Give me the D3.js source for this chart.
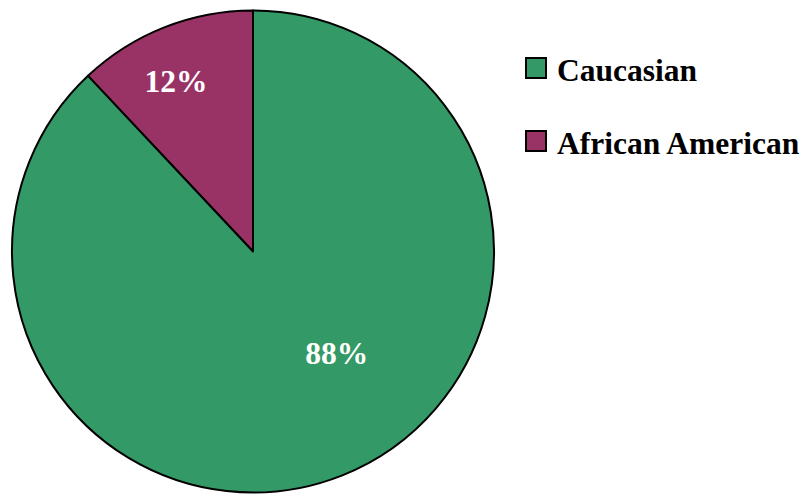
<!DOCTYPE html>
<html>
<head>
<meta charset="utf-8">
<script src="https://cdn.jsdelivr.net/npm/d3@7"></script>
<style>
  html, body { margin: 0; padding: 0; background: #fff; }
  svg { display: block; }
</style>
</head>
<body>
<svg id="chart" width="806" height="494"></svg>
<script>
// Population share by group (percent)
const categories = ["African American", "Caucasian"];
const values = [12, 88];
const colors = ["#993366", "#339966"];
const legendOrder = ["Caucasian", "African American"];

const svg = d3.select("#chart");
const cx = 253, cy = 251.5, radius = 241;
const serif = '"Liberation Serif"';

const color = d3.scaleOrdinal().domain(categories).range(colors);

// Slices run counter-clockwise from 12 o'clock, first category first
const pie = d3.pie().sort(null).value(d => d.value)
  .startAngle(0).endAngle(-2 * Math.PI);
const data = categories.map((c, i) => ({ name: c, value: values[i] }));
const arcs = pie(data);

const arc = d3.arc().innerRadius(0).outerRadius(radius);

const g = svg.append("g").attr("transform", `translate(${cx},${cy})`);

g.selectAll("path.slice")
  .data(arcs)
  .join("path")
  .attr("class", "slice")
  .attr("d", arc)
  .attr("fill", d => color(d.data.name))
  .attr("stroke", "#000")
  .attr("stroke-width", 2)
  .attr("stroke-linejoin", "round");

// Value labels: placed near each slice's mid-angle; the large slice's label sits closer in
const total = d3.sum(values);
const labelPos = d => {
  const span = Math.abs(d.endAngle - d.startAngle);
  let a = (d.startAngle + d.endAngle) / 2;
  let r;
  if (span > Math.PI) {
    a -= 0.312;
    r = 0.546 * radius;
  } else {
    a -= 0.049;
    r = 0.774 * radius;
  }
  return [r * Math.sin(a), -r * Math.cos(a)];
};

g.selectAll("text.value")
  .data(arcs)
  .join("text")
  .attr("class", "value")
  .attr("transform", d => `translate(${labelPos(d)})`)
  .attr("text-anchor", "middle")
  .attr("dy", 10.6)
  .attr("fill", "#fff")
  .style("font-family", serif)
  .style("font-weight", "bold")
  .style("font-size", "31.5px")
  .text(d => Math.round(d.data.value / total * 100) + "%");

// Legend
const legend = svg.append("g").attr("transform", "translate(526,58)");
const item = legend.selectAll("g.item")
  .data(legendOrder)
  .join("g")
  .attr("class", "item")
  .attr("transform", (d, i) => `translate(0,${i * 73})`);

item.append("rect")
  .attr("width", 20)
  .attr("height", 20)
  .attr("fill", d => color(d))
  .attr("stroke", "#000")
  .attr("stroke-width", 2);

item.append("text")
  .attr("x", 31)
  .attr("y", 22.5)
  .attr("fill", "#000")
  .style("font-family", serif)
  .style("font-weight", "bold")
  .style("font-size", "31.5px")
  .text(d => d);
</script>
</body>
</html>
